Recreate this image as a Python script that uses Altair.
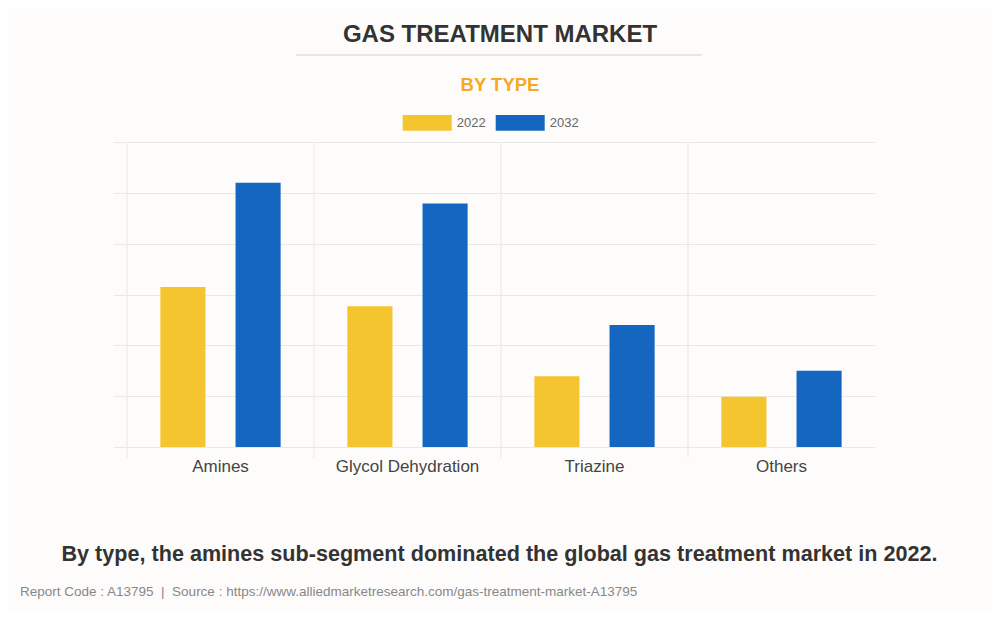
import altair as alt
import pandas as pd

categories = ["Amines", "Glycol Dehydration", "Triazine", "Others"]
years = ["2022", "2032"]
values_2022 = [1575, 1385, 695, 495]
values_2032 = [2600, 2395, 1200, 750]
y_ticks = [0, 500, 1000, 1500, 2000, 2500, 3000]

title_text = ["GAS TREATMENT MARKET"]
subtitle_text = ["BY TYPE"]
footer_text = ["By type, the amines sub-segment dominated the global gas treatment market in 2022."]
source_text = ["Report Code : A13795\u00a0 |\u00a0 Source : https://www.alliedmarketresearch.com/gas-treatment-market-A13795"]

colors = ["#F4C52F", "#1466C1"]
GRID = "#e8e8e8"
FONT = "Liberation Sans"

rows = []
for c, a, b in zip(categories, values_2022, values_2032):
    rows.append({"category": c, "year": years[0], "value": a})
    rows.append({"category": c, "year": years[1], "value": b})
df = pd.DataFrame(rows)
cat_df = pd.DataFrame({"category": categories})

x_axis = alt.Axis(title=None, ticks=False, domain=False, grid=False, labelAngle=0,
                  labelFontSize=17, labelColor="#444", labelFont=FONT,
                  labelPadding=11)
x_scale = alt.Scale(paddingInner=0, paddingOuter=0)

bars = alt.Chart(df).mark_bar().encode(
    x=alt.X("category:N", sort=categories, axis=x_axis, scale=x_scale),
    xOffset=alt.XOffset("year:N", sort=years,
                        scale=alt.Scale(paddingInner=0.4, paddingOuter=0.444)),
    y=alt.Y("value:Q", scale=alt.Scale(domain=[0, 3000], nice=False),
            axis=alt.Axis(values=y_ticks, labels=False, title=None, domain=False,
                          tickSize=13, tickColor=GRID, gridColor=GRID, grid=True)),
    color=alt.Color("year:N", sort=years,
                    scale=alt.Scale(domain=years, range=colors),
                    legend=alt.Legend(orient="none", legendX=275.7, legendY=-44,
                                      direction="horizontal", title=None,
                                      symbolType="M-1,-0.32H1V0.32H-1Z",
                                      symbolSize=2401, symbolStrokeWidth=0,
                                      labelFontSize=13, labelColor="#666",
                                      labelFont=FONT, labelOffset=5,
                                      columnPadding=10, padding=0)),
)

vlines = alt.Chart(cat_df).mark_rule(color=GRID, strokeWidth=1).encode(
    x=alt.X("category:N", sort=categories, bandPosition=0, axis=x_axis, scale=x_scale),
    y=alt.value(0),
    y2=alt.value(316),
)

def text_layer(txt, x, y, size, color, weight="normal", align="center"):
    d = pd.DataFrame({"t": txt})
    return alt.Chart(d).mark_text(fontSize=size, color=color, fontWeight=weight,
                                  align=align, baseline="alphabetic", font=FONT).encode(
        text="t:N", x=alt.value(x), y=alt.value(y))

title = text_layer(title_text, 373, -100.3, 24, "#333", "bold")
underline = alt.Chart(cat_df.head(1)).mark_rule(color="#cfcfcf", strokeWidth=1.2).encode(
    x=alt.value(169), x2=alt.value(575), y=alt.value(-87))
subtitle = text_layer(subtitle_text, 373, -51, 18.5, "#F7A823", "bold")
footer = text_layer(footer_text, 372.5, 418.7, 21.6, "#333", "bold")
source = text_layer(source_text, -107, 453.5, 13.5, "#888", align="left")

chart = alt.layer(vlines, bars, underline, title, subtitle, footer, source).properties(
    width=748, height=305,
    autosize=alt.AutoSizeParams(type="none"),
    padding={"left": 119, "top": 134, "right": 117, "bottom": 164},
).configure(background="#fdfcfb").configure_view(stroke=None)

chart.save("out.html", embed_options={"renderer": "svg", "actions": False})
